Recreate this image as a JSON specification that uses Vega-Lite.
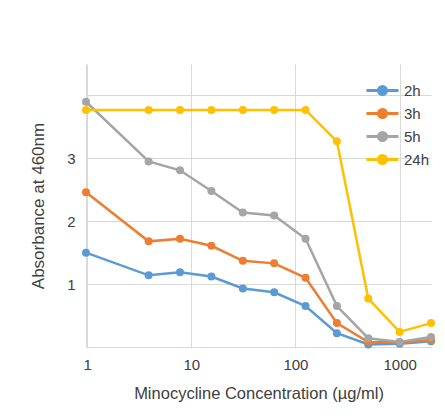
{
  "$schema": "https://vega.github.io/schema/vega-lite/v6.json",
  "width": 345,
  "height": 283,
  "autosize": {"type": "none"},
  "padding": {"left": 86, "top": 64, "right": 14, "bottom": 72},
  "background": "white",
  "config": {
    "font": "Liberation Sans",
    "view": {"stroke": null}
  },
  "data": {"values": [
    {"c": 0.977, "s": "2h", "a": 1.50}, {"c": 3.9, "s": "2h", "a": 1.14}, {"c": 7.8, "s": "2h", "a": 1.19}, {"c": 15.6, "s": "2h", "a": 1.12}, {"c": 31.25, "s": "2h", "a": 0.93}, {"c": 62.5, "s": "2h", "a": 0.87}, {"c": 125, "s": "2h", "a": 0.65}, {"c": 250, "s": "2h", "a": 0.22}, {"c": 500, "s": "2h", "a": 0.04}, {"c": 1000, "s": "2h", "a": 0.05}, {"c": 2000, "s": "2h", "a": 0.09},
    {"c": 0.977, "s": "3h", "a": 2.46}, {"c": 3.9, "s": "3h", "a": 1.68}, {"c": 7.8, "s": "3h", "a": 1.72}, {"c": 15.6, "s": "3h", "a": 1.61}, {"c": 31.25, "s": "3h", "a": 1.37}, {"c": 62.5, "s": "3h", "a": 1.33}, {"c": 125, "s": "3h", "a": 1.10}, {"c": 250, "s": "3h", "a": 0.38}, {"c": 500, "s": "3h", "a": 0.08}, {"c": 1000, "s": "3h", "a": 0.07}, {"c": 2000, "s": "3h", "a": 0.11},
    {"c": 0.977, "s": "5h", "a": 3.90}, {"c": 3.9, "s": "5h", "a": 2.95}, {"c": 7.8, "s": "5h", "a": 2.81}, {"c": 15.6, "s": "5h", "a": 2.48}, {"c": 31.25, "s": "5h", "a": 2.14}, {"c": 62.5, "s": "5h", "a": 2.09}, {"c": 125, "s": "5h", "a": 1.72}, {"c": 250, "s": "5h", "a": 0.65}, {"c": 500, "s": "5h", "a": 0.14}, {"c": 1000, "s": "5h", "a": 0.08}, {"c": 2000, "s": "5h", "a": 0.16},
    {"c": 0.977, "s": "24h", "a": 3.77}, {"c": 3.9, "s": "24h", "a": 3.77}, {"c": 7.8, "s": "24h", "a": 3.77}, {"c": 15.6, "s": "24h", "a": 3.77}, {"c": 31.25, "s": "24h", "a": 3.77}, {"c": 62.5, "s": "24h", "a": 3.77}, {"c": 125, "s": "24h", "a": 3.77}, {"c": 250, "s": "24h", "a": 3.27}, {"c": 500, "s": "24h", "a": 0.77}, {"c": 1000, "s": "24h", "a": 0.24}, {"c": 2000, "s": "24h", "a": 0.38}
  ]},
  "mark": {"type": "line", "strokeWidth": 2.5, "clip": false, "point": {"size": 64, "filled": true, "opacity": 1}},
  "encoding": {
    "x": {"field": "c", "type": "quantitative", "scale": {"type": "log", "domain": [0.977, 2000], "nice": false},
      "axis": {"values": [1, 10, 100, 1000], "title": "Minocycline Concentration (µg/ml)", "format": "d",
        "labelPadding": 10, "titlePadding": 13, "labelFontSize": 15, "titleFontSize": 16.5, "titleFontWeight": "normal",
        "labelColor": "#404040", "titleColor": "#404040", "gridColor": "#d9d9d9", "domainColor": "#d9d9d9", "ticks": false}},
    "y": {"field": "a", "type": "quantitative", "scale": {"domain": [0, 4.5], "nice": false},
      "axis": {"values": [0, 1, 2, 3, 4], "labelExpr": "datum.value == 1 || datum.value == 2 || datum.value == 3 ? datum.label : ''", "title": "Absorbance at 460nm",
        "labelPadding": 11, "titlePadding": 19, "labelFontSize": 15, "titleFontSize": 17, "titleFontWeight": "normal",
        "labelColor": "#404040", "titleColor": "#404040", "gridColor": "#d9d9d9", "domainColor": "#d9d9d9", "ticks": false}},
    "color": {"field": "s", "type": "nominal", "sort": ["2h", "3h", "5h", "24h"],
      "scale": {"domain": ["2h", "3h", "5h", "24h"], "range": ["#5b9bd5", "#ed7d31", "#a5a5a5", "#ffc000"]},
      "legend": {"title": null, "orient": "none", "legendX": 287, "legendY": 17, "padding": 0,
        "symbolType": "M-2,0H2M-0.5,0A0.5,0.5 0 1,0 0.5,0A0.5,0.5 0 1,0 -0.5,0Z",
        "symbolSize": 256, "symbolStrokeWidth": 3, "labelOffset": 12, "rowPadding": 2,
        "labelFontSize": 15, "labelColor": "#404040",
        "encode": {"symbols": {"update": {"fill": {"scale": "color", "field": "value"}, "fillOpacity": {"value": 1}}}}}}
  }
}
